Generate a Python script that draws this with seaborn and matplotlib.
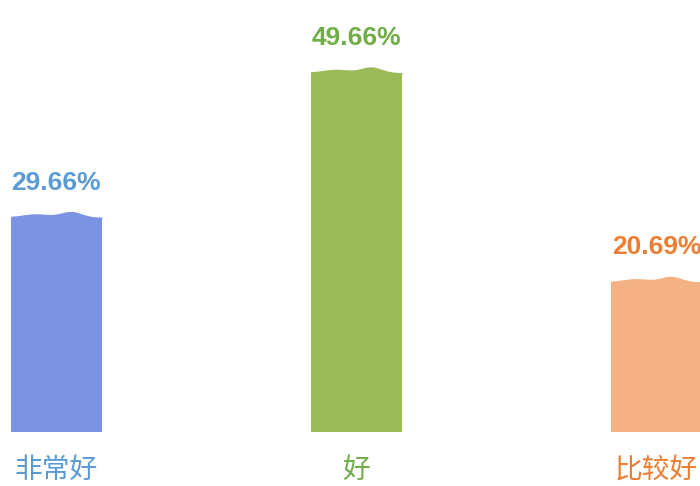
import matplotlib.pyplot as plt
import numpy as np
import pandas as pd
import seaborn as sns

categories = ["非常好", "好", "比较好"]
values = [29.66, 49.66, 20.69]
value_labels = ["29.66%", "49.66%", "20.69%"]
bar_colors = ["#7b93e2", "#9bbb59", "#f4b183"]
text_colors = ["#5b9bd5", "#70ad47", "#ed7d31"]

sns.set_theme(style="white")
plt.rcParams["font.family"] = ["Noto Sans CJK SC", "DejaVu Sans"]

df = pd.DataFrame({"cat": categories, "val": values})
px = 7.227  # pixels per value unit

fig = plt.figure(figsize=(7, 4.86), dpi=100)
ax = fig.add_axes([0, 0, 1, 1])
sns.barplot(data=df, x="cat", y="val", hue="cat", palette=bar_colors,
            width=0.305, legend=False, ax=ax, saturation=1, linewidth=0)

ax.set_xlim(-0.188, -0.188 + 700 / 300)
ax.set_ylim(-54 / px, (486 - 54) / px)
ax.axis("off")

# wavy cap on each bar
t = np.linspace(0, 1, 120)
wave_px = (1.0 + 3.0 * np.exp(-((t - 0.28) / 0.2) ** 2)
           + 5.5 * np.exp(-((t - 0.66) / 0.16) ** 2) - 0.5 * t)
for i, p in enumerate(ax.patches):
    x0, w, h = p.get_x(), p.get_width(), p.get_height()
    ax.fill_between(x0 + t * w, h - 0.1, h + wave_px / px,
                    color=bar_colors[i], linewidth=0)
    ax.text(x0 + w / 2, h + 28 / px, value_labels[i], ha="center", va="baseline",
            fontsize=19, fontweight="bold", color=text_colors[i],
            family=["Liberation Sans", "DejaVu Sans"])
    ax.text(x0 + w / 2, -38 / px, categories[i], ha="center", va="center",
            fontsize=20, color=text_colors[i])

fig.savefig("out.png", dpi=100)
